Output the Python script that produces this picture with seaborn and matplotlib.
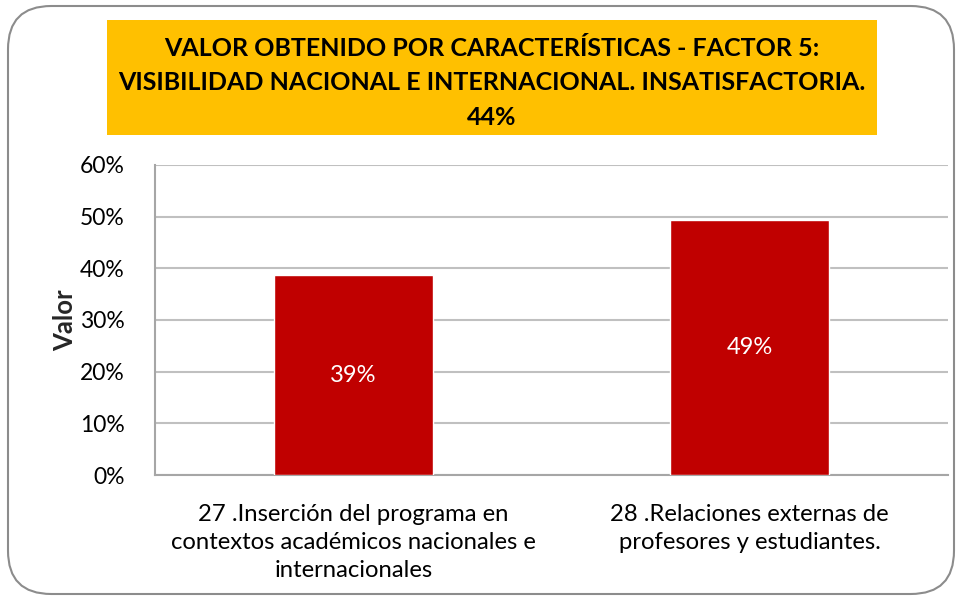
import matplotlib
matplotlib.use('Agg')
import matplotlib.pyplot as plt
import seaborn as sns
from matplotlib.patches import FancyBboxPatch, Rectangle
from matplotlib.ticker import FuncFormatter

# data
categorias = ['27 .Inserción del programa en\ncontextos académicos nacionales e\ninternacionales',
              '28 .Relaciones externas de\nprofesores y estudiantes.']
valores = [0.387, 0.493]
etiquetas = ['39%', '49%']
titulo = ('VALOR OBTENIDO POR CARACTERÍSTICAS - FACTOR 5:\n'
          'VISIBILIDAD NACIONAL E INTERNACIONAL. INSATISFACTORIA.\n44%')

sns.set_theme(style='white')
plt.rcParams['font.family'] = ['Lato', 'DejaVu Sans']

fig = plt.figure(figsize=(9.62, 6), dpi=100)
W, H = 962, 600

# outer rounded frame (outline only)
frame = FancyBboxPatch((8 / W, 6 / H), 946 / W, 588 / H,
                       boxstyle='round,pad=0,rounding_size=0.045',
                       transform=fig.transFigure, facecolor='none',
                       edgecolor='#8c8c8c', linewidth=1.5,
                       mutation_aspect=W / H, zorder=0)
fig.patches.append(frame)

# yellow title box
fig.patches.append(Rectangle((107 / W, 1 - 135 / H), 770 / W, 115 / H,
                             transform=fig.transFigure, facecolor='#FFC000',
                             edgecolor='none', zorder=0))
fig.text(492 / W, 1 - 83 / H, titulo, ha='center', va='center',
         fontsize=18, fontweight='bold', color='black', linespacing=1.62)

ax = fig.add_axes([155 / W, 1 - 475 / H, 793 / W, 310 / H])
sns.barplot(x=categorias, y=valores, color='#C00000', saturation=1,
            width=0.4, ax=ax, zorder=3)
ax.set_ylim(0, 0.6)
ax.set_yticks([0, 0.1, 0.2, 0.3, 0.4, 0.5, 0.6])
ax.yaxis.set_major_formatter(FuncFormatter(lambda v, p: f'{v:.0%}'))
ax.grid(axis='y', color='#c0c0c0', linewidth=1.5, zorder=0)
ax.set_axisbelow(True)
for s in ['top', 'right']:
    ax.spines[s].set_visible(False)
ax.spines['left'].set_color('#a6a6a6')
ax.spines['bottom'].set_color('#a6a6a6')
ax.spines['left'].set_linewidth(1.5)
ax.spines['bottom'].set_linewidth(1.5)
ax.tick_params(axis='y', length=0, labelsize=16.5, colors='black', pad=22)
ax.tick_params(axis='x', length=0, labelsize=17.2, colors='black', pad=21)
for lab in ax.get_xticklabels():
    lab.set_linespacing(1.42)
ax.set_xlabel('')
ax.set_ylabel('Valor', fontsize=18.5, fontweight='bold', labelpad=2)

for i, (v, t) in enumerate(zip(valores, etiquetas)):
    ax.text(i, v / 2, t, ha='center', va='center', color='white', fontsize=17)

fig.savefig('out.png', dpi=100)
